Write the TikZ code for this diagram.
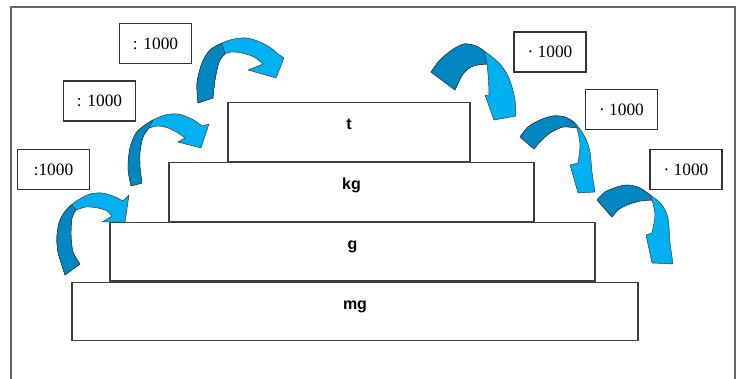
\documentclass[tikz,border=0pt]{standalone}
\usepackage{fontspec}
\setmainfont{Liberation Serif}
\setsansfont{Liberation Sans}
\usetikzlibrary{positioning}

\definecolor{skyblue}{RGB}{0,176,240}
\definecolor{deepblue}{RGB}{0,134,192}

\begin{document}
\begin{tikzpicture}[x=0.75pt, y=-0.75pt,
        stepbox/.style={draw=black!75, line width=0.9pt, minimum height=44pt, font=\sffamily\bfseries\fontsize{12}{14}\selectfont, text height=9pt, text depth=12.7pt},
        numbox/.style={draw=black!80, line width=0.8pt, minimum width=54pt, minimum height=30pt, font=\fontsize{13}{15}\selectfont},
        arrowface/.style={fill=skyblue, draw=black!80, line width=0.35pt, line join=round},
        arrowtail/.style={arrowface, fill=deepblue}]
        \useasboundingbox (0,0) rectangle (744,379);
        \draw[black!60, line width=1.1pt] (11,379) -- (11,7) -- (735,7) -- (735,379);

        \node[stepbox, minimum width=424.5pt] (mg) at (355,311.5) {mg};
        \node[stepbox, minimum width=363.75pt, above=0pt of mg, xshift=-1.9pt] (g) {g};
        \node[stepbox, minimum width=273.75pt, above=0pt of g, xshift=-0.75pt] (kg) {kg};
        \node[stepbox, minimum width=181.5pt, above=0pt of kg, xshift=-1.9pt] (t) {t};

        \node[numbox] (div1) at (155.5,43.5) {: 1000};
        \node[numbox] (div2) at (99.5,101) {: 1000};
        \node[numbox] (div3) at (53.5,169.5) {:1000};
        \node[numbox] (mul1) at (550,52) {· 1000};
        \node[numbox] (mul2) at (621.5,109.5) {· 1000};
        \node[numbox] (mul3) at (686,169.5) {· 1000};

        % arrows going up the steps
        \draw[arrowface] plot[smooth] coordinates {(198,103) (197,83) (202,63) (210,50) (222,43) (234,39) (247,38) (260,42) (271,48) (278,54)} -- (284,58) -- (276,78) -- (248,70)
            -- plot[smooth] coordinates {(263,64) (254,57) (242,53) (231,52) (225,54)} -- plot[smooth] coordinates {(225,54) (219,62) (215,80) (213,98)} -- cycle;
        \draw[arrowtail] plot[smooth] coordinates {(198,103) (197,83) (202,63) (210,50) (222,43)} -- plot[smooth] coordinates {(225,54) (219,62) (215,80) (213,98)} -- cycle;
        \draw[arrowface] plot[smooth] coordinates {(131,186) (128,168) (130,148) (136,133) (145,125) (153,120) (165,115) (178,114) (192,119) (202,126)} -- (209,124) -- (201,148) -- (178,142)
            -- plot[smooth] coordinates {(185,138) (178,133) (168,128) (158,126) (149,128)} -- plot[smooth] coordinates {(149,128) (143,137) (140,152) (140,167) (142,183)} -- cycle;
        \draw[arrowtail] plot[smooth] coordinates {(131,186) (128,168) (130,148) (136,133) (145,125) (153,120)} -- plot[smooth] coordinates {(149,128) (143,137) (140,152) (140,167) (142,183)} -- cycle;
        \draw[arrowface] plot[smooth] coordinates {(65,275) (58,252) (57,235) (60,220) (68,208) (78,200) (90,194) (102,193) (113,196) (123,201)} -- (129,195) -- (125,222) -- (102,222)
            -- plot[smooth] coordinates {(112,216) (107,211) (98,208) (86,207) (76,210)} -- plot[smooth] coordinates {(76,210) (72,218) (71,235) (73,252) (80,264)} -- cycle;
        \draw[arrowtail] plot[smooth] coordinates {(65,275) (58,252) (57,235) (60,220) (66,210) (72,205)} -- plot[smooth] coordinates {(76,210) (72,218) (71,235) (73,252) (80,264)} -- cycle;

        % arrows going down the steps
        \draw[arrowface] plot[smooth] coordinates {(431,72) (440,60) (452,50) (464,44) (476,46) (487,53) (499,63) (507,74) (512,87) (515,100) (516,116)} -- (494,120) -- (485,95)
            -- plot[smooth] coordinates {(489,96) (488.5,80) (487,64)} -- plot[smooth] coordinates {(487,64) (473,66) (463,74) (455,90)} -- cycle;
        \draw[arrowtail] plot[smooth] coordinates {(431,72) (440,60) (452,50) (464,44) (476,46) (484,51)} -- plot[smooth] coordinates {(487,64) (473,66) (463,74) (455,90)} -- cycle;
        \draw[arrowface] plot[smooth] coordinates {(520,137) (528,127) (540,120) (553,116) (565,117) (575,123) (585,137) (590,152) (592,172) (595,192)} -- (578,193) -- (570,165)
            -- plot[smooth] coordinates {(578,163) (580,145) (577,128)} -- plot[smooth] coordinates {(577,128) (563,127) (550,133) (540,142) (534,149)} -- cycle;
        \draw[arrowtail] plot[smooth] coordinates {(520,137) (528,127) (540,120) (553,116) (565,117) (573,122)} -- plot[smooth] coordinates {(577,128) (563,127) (550,133) (540,142) (534,149)} -- cycle;
        \draw[arrowface] plot[smooth] coordinates {(597,200) (605,192) (617,187) (628,185) (640,188) (653,197) (662,205) (668,218) (670,242) (673,264)} -- (652,263) -- (646,235)
            -- plot[smooth] coordinates {(652,233) (655,215) (652,200)} -- plot[smooth] coordinates {(652,200) (640,201) (627,205) (618,210) (612,217)} -- cycle;
        \draw[arrowtail] plot[smooth] coordinates {(597,200) (605,192) (617,187) (628,185) (640,188) (650,195)} -- plot[smooth] coordinates {(652,200) (640,201) (627,205) (618,210) (612,217)} -- cycle;
    \end{tikzpicture}
\end{document}
